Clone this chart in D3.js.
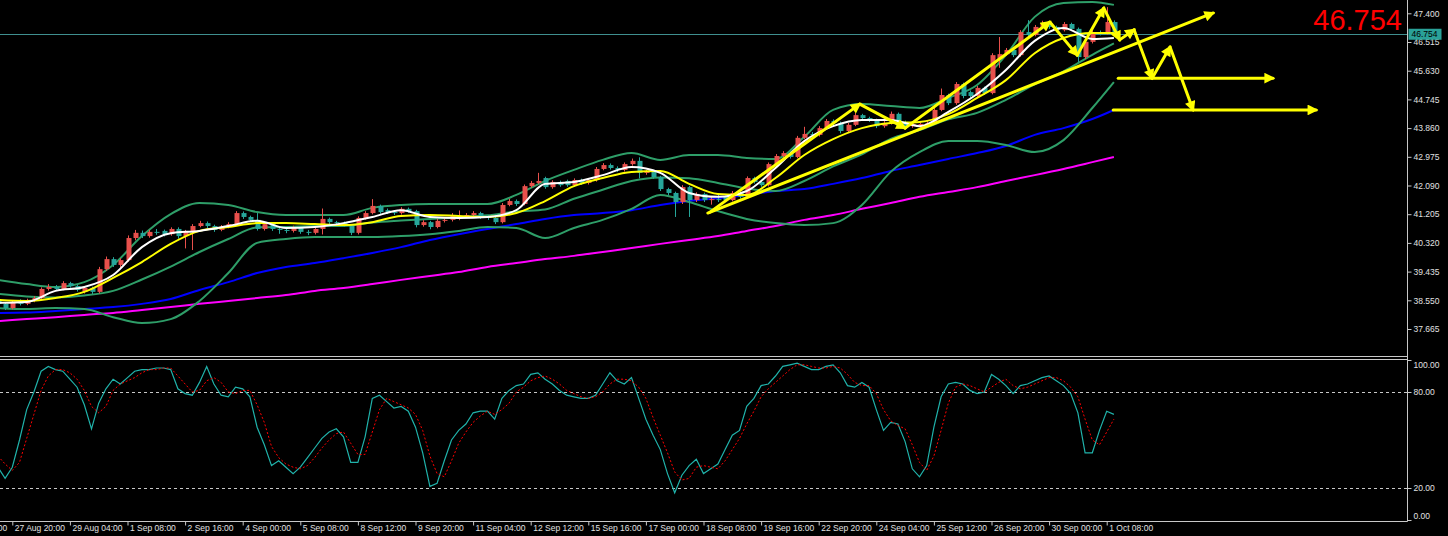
<!DOCTYPE html>
<html><head><meta charset="utf-8">
<script src="https://cdn.jsdelivr.net/npm/d3@7"></script>
<style>html,body{margin:0;padding:0;background:#000;overflow:hidden}</style>
</head><body><svg id="c" width="1448" height="536"></svg>
<script>
// ---------------- DATA ----------------
const open = [38.56,38.44,38.31,38.50,38.44,38.53,38.62,38.90,38.96,38.90,39.08,38.99,38.81,38.93,38.81,39.51,39.82,39.64,39.79,40.47,40.63,40.53,40.66,40.69,40.59,40.75,40.53,40.66,40.84,40.93,40.84,40.72,40.81,40.90,41.24,41.12,41.03,40.75,40.90,40.75,40.72,40.69,40.78,40.66,40.63,40.75,41.06,40.96,40.93,40.87,40.63,41.09,41.24,41.46,41.33,41.27,41.24,41.37,41.30,40.87,40.96,40.81,41.00,41.03,41.06,41.15,41.18,41.24,41.12,41.09,40.96,41.49,41.61,41.52,42.07,42.17,42.32,42.04,42.20,42.23,42.10,42.26,42.17,42.26,42.60,42.72,42.63,42.57,42.75,42.85,42.48,42.51,42.35,41.98,41.86,41.58,42.04,41.64,41.83,41.64,41.67,41.74,41.64,41.86,41.74,42.32,42.20,42.10,42.75,43.00,43.09,42.97,43.56,43.68,43.65,43.86,44.08,44.02,43.77,43.96,44.26,44.17,44.11,43.92,44.02,44.30,44.05,43.92,43.89,43.99,44.02,44.42,44.88,44.63,45.22,44.97,44.85,45.10,44.94,45.99,46.14,46.27,46.11,46.82,46.73,46.98,47.10,46.98,46.88,47.07,46.92,46.05,46.52,46.82,46.79,47.13];
const high = [38.62,38.49,38.55,38.58,38.60,38.68,38.95,39.05,39.02,39.14,39.12,39.03,38.99,38.97,39.58,39.90,39.88,39.85,40.55,40.72,40.70,40.72,40.75,40.73,40.80,40.80,40.72,40.90,41.00,40.98,40.88,40.87,40.96,41.30,41.29,41.16,41.24,40.96,40.94,40.80,40.78,40.85,40.82,40.72,40.80,41.38,41.10,41.00,40.98,40.90,41.14,41.30,41.67,41.50,41.38,41.32,41.42,41.41,41.34,41.02,41.00,41.06,41.08,41.24,41.32,41.24,41.30,41.28,41.17,41.19,41.55,41.68,41.66,42.12,42.23,42.48,42.36,42.25,42.24,42.27,42.31,42.30,42.32,42.66,42.78,42.77,42.68,42.80,42.92,42.96,42.57,42.55,42.39,42.02,41.90,42.10,42.08,41.88,41.87,41.72,41.85,41.78,41.92,41.90,42.37,42.36,42.24,42.80,43.06,43.15,43.14,43.62,43.90,43.74,43.92,44.14,44.13,44.06,44.02,44.33,44.30,44.21,44.15,44.08,44.37,44.34,44.09,44.05,44.04,44.08,44.48,45.08,44.92,45.28,45.26,45.02,45.16,45.14,46.17,46.67,46.33,46.31,46.88,47.19,47.04,47.17,47.14,47.02,47.13,47.11,46.96,46.58,46.88,46.87,47.59,47.18];
const low = [38.38,38.25,38.27,38.39,38.40,38.49,38.58,38.85,38.84,38.86,38.94,38.82,38.76,38.74,38.76,39.46,39.58,39.55,39.74,40.40,40.47,40.48,40.57,40.52,40.54,40.45,40.15,40.10,40.80,40.78,40.66,40.68,40.77,40.86,41.06,40.98,40.70,40.70,40.69,40.60,40.62,40.64,40.60,40.56,40.58,40.58,40.90,40.87,40.82,40.56,40.58,41.04,41.20,41.22,41.21,41.18,41.19,41.25,40.80,40.82,40.74,40.77,40.95,40.98,41.02,41.10,41.13,41.06,41.03,40.90,40.92,41.45,41.46,41.48,42.02,42.13,41.99,41.99,42.05,42.05,42.06,42.11,42.12,42.21,42.56,42.58,42.51,42.52,42.70,42.31,42.42,42.30,41.92,41.79,41.12,41.52,41.12,41.58,41.58,41.50,41.58,41.58,41.60,41.68,41.70,42.15,42.05,42.06,42.70,42.95,42.92,42.93,43.52,43.58,43.60,43.82,43.96,43.70,43.72,43.92,44.10,44.05,43.86,43.87,43.97,43.86,43.86,43.87,43.85,43.94,43.97,44.38,44.57,44.58,44.78,44.79,44.80,44.88,44.90,45.72,46.09,46.05,46.06,46.67,46.69,46.93,46.92,46.82,46.84,46.86,45.90,45.99,46.47,46.72,46.74,46.70];
const close = [38.44,38.31,38.50,38.44,38.53,38.62,38.90,38.96,38.90,39.08,38.99,38.87,38.93,38.81,39.51,39.82,39.64,39.79,40.47,40.63,40.53,40.66,40.63,40.59,40.75,40.53,40.66,40.84,40.93,40.84,40.72,40.81,40.90,41.24,41.12,41.03,40.75,40.90,40.75,40.72,40.69,40.78,40.66,40.63,40.75,41.06,40.96,40.93,40.87,40.63,41.09,41.24,41.46,41.27,41.27,41.24,41.37,41.30,40.87,40.96,40.81,41.00,41.03,41.18,41.15,41.18,41.24,41.12,41.09,40.96,41.49,41.61,41.52,42.07,42.17,42.23,42.04,42.20,42.10,42.10,42.26,42.17,42.26,42.60,42.72,42.63,42.57,42.75,42.85,42.48,42.51,42.35,41.98,41.86,41.58,42.04,41.64,41.83,41.64,41.67,41.64,41.64,41.86,41.74,42.32,42.20,42.10,42.75,43.00,43.09,42.97,43.56,43.68,43.65,43.86,44.08,44.02,43.77,43.96,44.26,44.17,44.11,43.92,44.02,44.30,43.92,43.92,43.99,43.99,44.02,44.42,44.88,44.63,45.22,44.85,44.85,45.10,44.94,46.11,46.14,46.27,46.11,46.82,46.73,46.98,47.10,46.98,46.88,47.07,46.92,46.05,46.52,46.82,46.79,47.13,46.754];

// indicator lines, read every 4 bars
const sampleIdx = [0,4,8,12,16,20,24,28,32,36,40,44,48,52,56,60,64,68,72,76,80,84,88,92,96,100,104,108,112,116,120,124,128,132,136,140,144,148,152,155];
const bbUpper = [39.18,39.05,38.96,39.11,39.64,40.53,41.21,41.55,41.49,41.27,41.18,41.18,41.18,41.40,41.49,41.52,41.52,41.52,41.80,42.23,42.57,42.88,43.09,42.88,43.03,43.03,42.94,42.91,43.59,44.42,44.60,44.54,44.48,44.79,45.19,46.11,47.29,47.72,47.75,47.66];
const bbMiddle = [38.75,38.67,38.64,38.70,38.84,39.19,39.59,40.04,40.44,40.80,40.81,40.84,40.84,40.95,41.01,41.06,41.11,41.17,41.29,41.35,41.68,41.96,42.23,42.34,42.31,42.17,42.00,41.92,42.23,42.68,43.05,43.53,43.80,44.13,44.33,44.73,45.21,45.61,46.12,46.47];
const bbLower = [38.31,38.28,38.31,38.28,38.03,37.85,37.97,38.53,39.39,40.32,40.44,40.50,40.50,40.50,40.53,40.59,40.69,40.81,40.78,40.47,40.78,41.03,41.37,41.80,41.58,41.30,41.06,40.93,40.87,40.93,41.49,42.51,43.12,43.46,43.46,43.34,43.12,43.49,44.48,45.28];
const maWhite = [38.47,38.50,38.84,38.96,39.33,40.19,40.62,40.69,40.84,41.00,40.78,40.81,40.93,41.12,41.33,41.12,41.09,41.12,41.33,42.14,42.20,42.41,42.66,42.48,41.86,41.74,41.92,42.63,43.46,43.92,44.11,44.11,43.92,44.36,44.91,45.65,46.55,46.95,46.61,46.64];
const maYellow = [38.56,38.53,38.62,38.81,39.24,39.73,40.29,40.69,40.81,40.93,40.93,40.90,40.87,40.96,41.15,41.18,41.15,41.12,41.24,41.61,42.07,42.32,42.51,42.54,42.14,41.83,41.80,42.32,43.03,43.52,43.86,44.02,44.05,44.29,44.79,45.34,46.17,46.64,46.79,46.79];
const maBlue = [38.16,38.17,38.22,38.28,38.34,38.44,38.59,38.87,39.11,39.39,39.58,39.70,39.85,40.01,40.19,40.41,40.59,40.75,40.90,41.06,41.18,41.24,41.33,41.49,41.61,41.70,41.80,41.92,41.98,42.14,42.32,42.54,42.72,42.91,43.09,43.31,43.65,43.86,44.14,44.42];
const maMagenta = [37.91,37.97,38.03,38.10,38.16,38.25,38.34,38.44,38.53,38.62,38.71,38.84,38.93,39.05,39.18,39.30,39.42,39.58,39.70,39.82,39.92,40.04,40.16,40.29,40.41,40.53,40.69,40.84,41.03,41.18,41.37,41.55,41.74,41.89,42.04,42.23,42.41,42.60,42.81,42.97];

// stochastic, one value per bar
const stochK = [33,26,33,50,69,80,93,96,94,93,88,83,72,57,73,82,88,85,89,93,94,94,95,95,94,82,79,78,86,96,85,78,77,83,82,77,58,47,34,37,33,29,33,39,45,51,55,57,52,36,36,52,76,78,74,70,71,68,58,42,21,23,37,50,56,60,67,68,68,63,76,81,84,85,91,92,88,85,81,78,77,76,76,78,85,92,87,85,89,76,63,53,44,29,17,28,34,38,29,32,35,44,53,56,71,76,84,85,90,96,97,98,96,94,94,96,97,92,84,83,86,83,69,56,61,60,49,32,27,34,58,77,85,86,85,81,79,80,91,88,84,79,84,85,87,89,90,87,84,79,67,42,42,56,68,66];
const stochD = [40,35,31,36,51,66,81,90,94,94,92,88,81,71,67,71,81,85,87,89,92,94,94,95,95,90,85,80,81,87,89,86,80,79,81,81,72,61,46,39,35,33,32,34,39,45,50,54,55,48,41,41,55,69,76,74,72,70,66,56,40,29,27,37,48,55,61,65,68,66,69,73,80,83,87,89,90,88,85,81,79,77,76,77,80,85,88,88,87,83,76,64,53,42,30,25,26,33,34,33,32,37,44,51,60,68,77,82,86,90,94,97,97,96,95,95,96,95,91,86,84,84,79,69,62,59,57,47,36,31,40,56,73,83,85,84,82,80,83,86,88,84,82,83,85,87,89,89,87,83,77,63,50,47,55,63];

const priceTicks = [47.400,46.515,45.630,44.745,43.860,42.975,42.090,41.205,40.320,39.435,38.550,37.665];
const stochTicks = [100,80,20,0];
const stochLevels = [80,20];
const timeLabels = ["26 Aug 12:00","27 Aug 20:00","29 Aug 04:00","1 Sep 08:00","2 Sep 16:00","4 Sep 00:00","5 Sep 08:00","8 Sep 12:00","9 Sep 20:00","11 Sep 04:00","12 Sep 12:00","15 Sep 16:00","17 Sep 00:00","18 Sep 08:00","19 Sep 16:00","22 Sep 20:00","24 Sep 04:00","25 Sep 12:00","26 Sep 20:00","30 Sep 00:00","1 Oct 08:00"];
const timeLabelBars = [-6,2,10,18,26,34,42,50,58,66,74,82,90,98,106,114,122,130,138,146,154];
const lastPrice = 46.754;

// hand-drawn objects: [bar index, price]
const trendUp = [[98.6,41.24],[168.8,47.41]];
const zigzag = [[98.9,41.27],[119.7,44.60],[126.0,43.86],[146.1,47.13],[149.9,46.11],[153.6,47.56],[155.8,46.58],[157.8,46.89],[160.3,45.40],[162.8,46.36],[166.0,44.42]];
const levelA = [[155.6,45.40],[177.1,45.40]];
const levelB = [[154.9,44.42],[183.1,44.42]];

// ---------------- DRAW ----------------
const W = 1448, H = 536;
const AX = 1407.5;
const svg = d3.select('#c');
svg.append('rect').attr('width', W).attr('height', H).attr('fill', '#000');
const N = close.length;
const x = d3.scaleLinear().domain([0, N - 1]).range([-2.1, 1113.9]);
const y = d3.scaleLinear().domain([37.665, 47.4]).range([329.0, 13.3]);
const ys = d3.scaleLinear().domain([0, 100]).range([520, 360]);
const FONT = 'Liberation Sans, Arial, sans-serif';
const AXC = '#c8c8c8';

const defs = svg.append('defs');
defs.append('clipPath').attr('id', 'cm').append('rect').attr('x', 0).attr('y', 0).attr('width', AX).attr('height', 356);
defs.append('clipPath').attr('id', 'cs').append('rect').attr('x', 0).attr('y', 360).attr('width', AX).attr('height', 161);
defs.append('marker').attr('id', 'ah').attr('viewBox', '0 0 10 10').attr('refX', 8).attr('refY', 5)
  .attr('markerWidth', 4.2).attr('markerHeight', 3.6).attr('orient', 'auto')
  .append('path').attr('d', 'M0,0 L10,5 L0,10 z').attr('fill', '#ffff00');

const main = svg.append('g').attr('clip-path', 'url(#cm)');

// current price line
main.append('line').attr('x1', 0).attr('x2', AX).attr('y1', Math.round(y(lastPrice)) + 0.5).attr('y2', Math.round(y(lastPrice)) + 0.5)
  .attr('stroke', '#3f8f8f').attr('stroke-width', 1);

// indicator lines
function series(vals) { return sampleIdx.map((b, k) => ({ i: b, v: vals[k] })); }
const ln = d3.line().x(d => x(d.i)).y(d => y(d.v)).curve(d3.curveMonotoneX);
const bbC = '#2e9e68';
[[maMagenta, '#ff00ff'], [maBlue, '#0000ff'], [bbUpper, bbC], [bbLower, bbC], [bbMiddle, bbC]].forEach(([v, c]) => {
  main.append('path').attr('d', ln(series(v))).attr('fill', 'none').attr('stroke', c).attr('stroke-width', 2);
});

// candles
const bull = '#e8504c', bear = '#26a69a';
const cg = main.append('g');
close.forEach((c, i) => {
  const o = open[i];
  const col = c >= o ? bull : bear;
  const cx = Math.round(x(i));
  cg.append('line').attr('x1', cx + 0.5).attr('x2', cx + 0.5).attr('y1', y(high[i])).attr('y2', y(low[i]))
    .attr('stroke', col).attr('stroke-width', 1);
  const t = Math.min(y(o), y(c)), b = Math.max(y(o), y(c));
  cg.append('rect').attr('x', cx - 1.5).attr('y', t).attr('width', 5).attr('height', Math.max(1, b - t)).attr('fill', col);
});

[[maYellow, '#ffff00'], [maWhite, '#ffffff']].forEach(([v, c]) => {
  main.append('path').attr('d', ln(series(v))).attr('fill', 'none').attr('stroke', c).attr('stroke-width', 2);
});

// hand-drawn arrows
const dg = svg.append('g');
function seg(a, b) {
  dg.append('line').attr('x1', x(a[0])).attr('y1', y(a[1])).attr('x2', x(b[0])).attr('y2', y(b[1]))
    .attr('stroke', '#ffff00').attr('stroke-width', 3).attr('stroke-linecap', 'round').attr('marker-end', 'url(#ah)');
}
seg(trendUp[0], trendUp[1]);
for (let k = 0; k < zigzag.length - 1; k++) seg(zigzag[k], zigzag[k + 1]);
seg(levelA[0], levelA[1]);
seg(levelB[0], levelB[1]);

// big price text
svg.append('text').attr('x', 1402).attr('y', 30).attr('text-anchor', 'end').attr('fill', '#ff0000')
  .attr('font-family', FONT).attr('font-size', 29).text(lastPrice.toFixed(3));

// stochastic panel
const sg = svg.append('g').attr('clip-path', 'url(#cs)');
stochLevels.forEach(l => {
  sg.append('line').attr('x1', 0).attr('x2', AX).attr('y1', Math.round(ys(l)) + 0.5).attr('y2', Math.round(ys(l)) + 0.5)
    .attr('stroke', AXC).attr('stroke-dasharray', '3,3').attr('stroke-width', 1);
});
const sl = d3.line().x((d, i) => x(i)).y(d => ys(d));
sg.append('path').attr('d', sl(stochK)).attr('fill', 'none').attr('stroke', '#20b2aa').attr('stroke-width', 1.2);
sg.append('path').attr('d', sl(stochD)).attr('fill', 'none').attr('stroke', '#ff0000').attr('stroke-width', 1).attr('stroke-dasharray', '2,2');

// frames
svg.append('line').attr('x1', 0).attr('x2', AX).attr('y1', 356.5).attr('y2', 356.5).attr('stroke', AXC);
svg.append('line').attr('x1', 0).attr('x2', AX).attr('y1', 359.5).attr('y2', 359.5).attr('stroke', AXC);
svg.append('line').attr('x1', AX).attr('x2', AX).attr('y1', 0).attr('y2', 521.5).attr('stroke', AXC);
svg.append('line').attr('x1', 0).attr('x2', AX).attr('y1', 521.5).attr('y2', 521.5).attr('stroke', AXC);

// price axis
const pa = svg.append('g').attr('transform', `translate(${AX},0)`)
  .call(d3.axisRight(y).tickValues(priceTicks).tickFormat(d3.format('.3f')).tickSize(4).tickPadding(2));
pa.select('.domain').remove();
pa.selectAll('line').attr('stroke', AXC);
pa.selectAll('text').attr('fill', '#e0e0e0').attr('font-family', FONT).attr('font-size', 8.5);

// price label box
const py = y(lastPrice);
svg.append('rect').attr('x', AX + 1).attr('y', py - 5.5).attr('width', 33).attr('height', 11).attr('fill', '#2aa198');
svg.append('text').attr('x', AX + 4).attr('y', py).attr('dy', '0.35em').attr('fill', '#000')
  .attr('font-family', FONT).attr('font-size', 8.5).text(lastPrice.toFixed(3));

// stochastic axis
const sa = svg.append('g').attr('transform', `translate(${AX},0)`)
  .call(d3.axisRight(ys).tickValues(stochTicks).tickFormat(d3.format('.2f')).tickSize(4).tickPadding(2));
sa.select('.domain').remove();
sa.selectAll('line').attr('stroke', AXC);
sa.selectAll('text').attr('fill', '#e0e0e0').attr('font-family', FONT).attr('font-size', 8.5)
  .attr('dy', d => d === 100 ? '0.9em' : (d === 0 ? '-0.15em' : '0.32em'));

// time axis
const ta = svg.append('g').attr('transform', 'translate(0,521.5)')
  .call(d3.axisBottom(x).tickValues(timeLabelBars).tickFormat((d, k) => timeLabels[k]).tickSize(4));
ta.select('.domain').remove();
ta.selectAll('line').attr('stroke', AXC);
ta.selectAll('text').attr('fill', '#e0e0e0').attr('font-family', FONT).attr('font-size', 8.5)
  .attr('text-anchor', 'start').attr('x', 2).attr('y', 3).attr('dy', '0.71em');
</script></body></html>
